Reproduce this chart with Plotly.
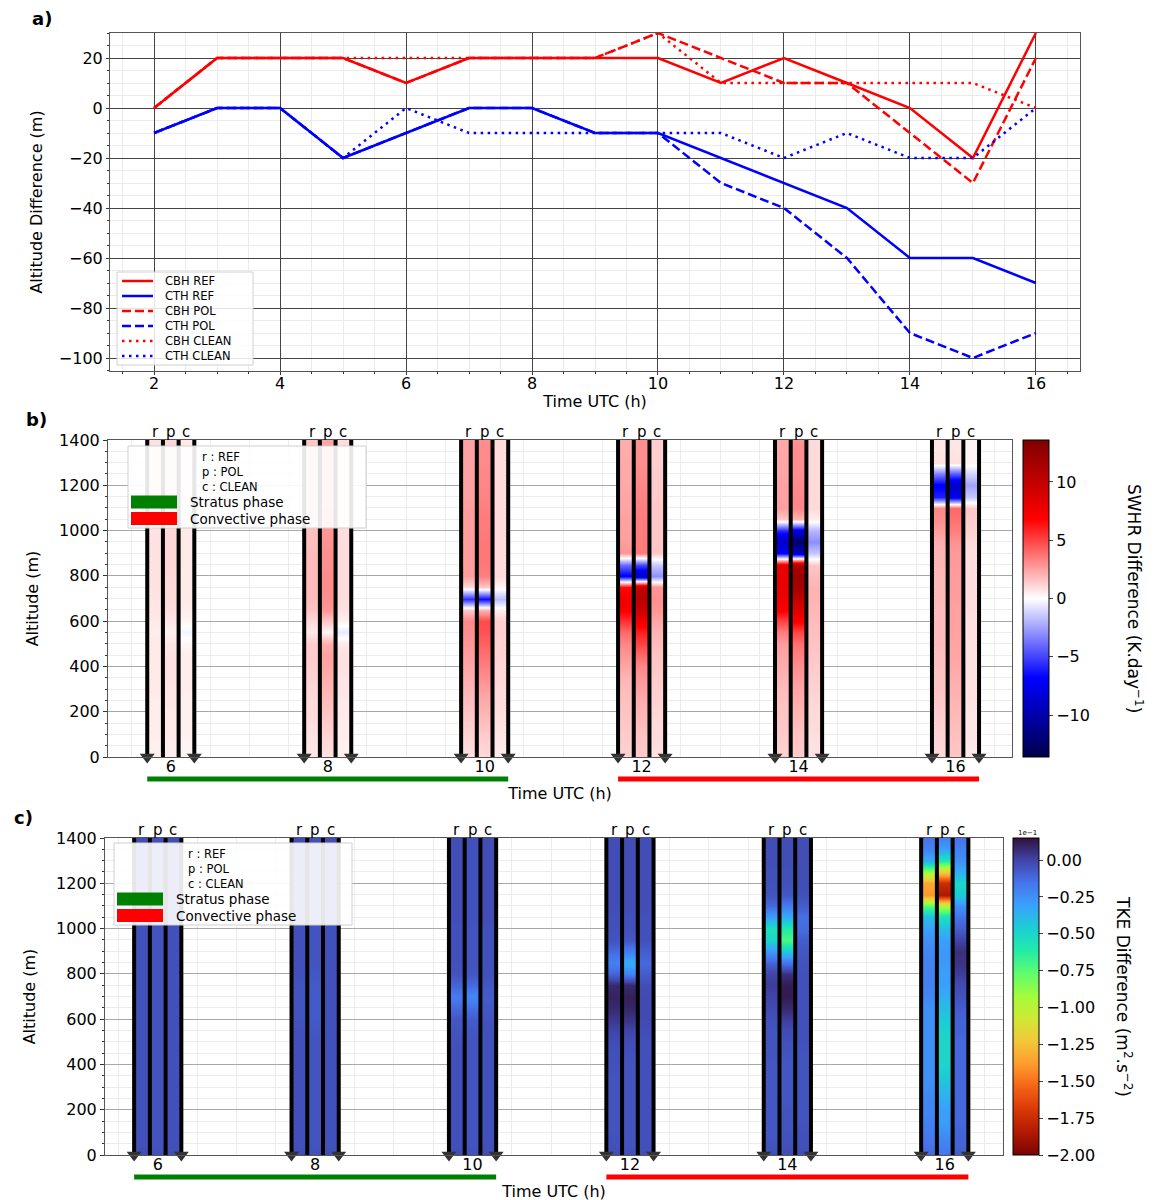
import numpy as np
import plotly.graph_objects as go
from plotly.subplots import make_subplots

# the page body adds an 8 px margin, so the figure is drawn a little narrower
# and every target position below is given in window pixels
W, H = 1151, 1200
BODY = 8
M = 20  # fixed margin on every side
FONT = "DejaVu Sans"

# ---------------- panel a : cloud base / top altitude differences
hours = [2, 3, 4, 5, 6, 7, 8, 9, 10, 11, 12, 13, 14, 15, 16]
cbh_ref = [0, 20, 20, 20, 10, 20, 20, 20, 20, 10, 20, 10, 0, -20, 30]
cth_ref = [-10, 0, 0, -20, -10, 0, 0, -10, -10, -20, -30, -40, -60, -60, -70]
cbh_pol = [0, 20, 20, 20, 10, 20, 20, 20, 30, 20, 10, 10, -10, -30, 20]
cth_pol = [-10, 0, 0, -20, -10, 0, 0, -10, -10, -30, -40, -60, -90, -100, -90]
cbh_clean = [0, 20, 20, 20, 20, 20, 20, 20, 30, 10, 10, 10, 10, 10, 0]
cth_clean = [-10, 0, 0, -20, 0, -10, -10, -10, -10, -10, -20, -10, -20, -20, 0]

# ---------------- panels b, c : profiles at selected hours
times = [6, 8, 10, 12, 14, 16]
stratus_times = [6, 8, 10]
convective_times = [12, 14, 16]
exp_letters = ["r", "p", "c"]
altitudes = [0, 50, 100, 150, 200, 250, 300, 350, 400, 450, 500, 550, 600, 650, 700,
             750, 800, 850, 900, 950, 1000, 1050, 1100, 1150, 1200, 1250, 1300, 1350, 1400]

# SWHR difference (K/day)
swhr_r6 = [0.4, 0.4, 0.5, 0.5, 0.5, 0.5, 0.6, 0.6, 0.6, 0.6, 0.6, 0.5, 0.6, 0.7, 0.7, 0.8, 0.8, 0.8, 0.8, 0.8, 0.8, 0.8, 0.8, 0.8, 0.8, 0.8, 0.8, 0.8, 0.8]
swhr_p6 = [0.5, 0.5, 0.6, 0.6, 0.6, 0.7, 0.7, 0.8, 0.8, 0.8, 0.7, 0.4, 0.7, 0.9, 1.0, 1.0, 1.0, 1.1, 1.1, 1.1, 1.1, 1.1, 1.1, 1.1, 1.1, 1.1, 1.1, 1.1, 1.1]
swhr_c6 = [0.3, 0.3, 0.4, 0.4, 0.4, 0.4, 0.5, 0.5, 0.5, 0.5, 0.3, -0.3, 0.3, 0.5, 0.6, 0.6, 0.6, 0.6, 0.6, 0.6, 0.6, 0.6, 0.6, 0.6, 0.6, 0.6, 0.6, 0.6, 0.6]
swhr_r8 = [0.6, 0.7, 0.8, 0.9, 1.0, 1.0, 1.1, 1.2, 1.3, 1.4, 1.4, 0.6, 1.0, 1.6, 1.8, 1.8, 1.8, 1.8, 1.8, 1.7, 1.7, 1.6, 1.6, 1.5, 1.5, 1.5, 1.5, 1.5, 1.5]
swhr_p8 = [0.8, 1.0, 1.2, 1.4, 1.6, 1.8, 2.0, 2.2, 2.4, 2.5, 2.2, 0.3, 1.5, 2.8, 3.0, 3.1, 3.1, 3.0, 3.0, 2.9, 2.8, 2.7, 2.6, 2.5, 2.5, 2.4, 2.4, 2.4, 2.4]
swhr_c8 = [0.4, 0.4, 0.5, 0.5, 0.6, 0.6, 0.7, 0.7, 0.8, 0.8, 0.6, -0.6, 0.4, 0.8, 0.9, 0.9, 0.9, 0.9, 0.9, 0.9, 0.9, 0.9, 0.9, 0.9, 0.9, 0.9, 0.9, 0.9, 0.9]
swhr_r10 = [0.8, 1.0, 1.2, 1.4, 1.6, 1.8, 2.0, 2.2, 2.4, 2.6, 2.8, 3.0, 3.2, 1.5, -5.5, 1.0, 2.6, 2.6, 2.6, 2.6, 2.6, 2.6, 2.6, 2.5, 2.5, 2.5, 2.5, 2.5, 2.5]
swhr_p10 = [1.0, 1.2, 1.4, 1.7, 2.0, 2.3, 2.6, 3.0, 3.4, 3.8, 4.2, 4.6, 4.8, 2.0, -6.5, 1.5, 3.4, 3.6, 3.6, 3.6, 3.5, 3.5, 3.4, 3.3, 3.2, 3.2, 3.1, 3.1, 3.0]
swhr_c10 = [0.5, 0.6, 0.7, 0.8, 0.9, 1.0, 1.0, 1.1, 1.1, 1.2, 1.2, 1.3, 1.3, 0.5, -1.8, 0.3, 1.0, 1.0, 1.0, 1.0, 1.0, 1.0, 1.0, 1.0, 1.0, 1.0, 1.0, 1.0, 1.0]
swhr_r12 = [1.2, 1.3, 1.4, 1.5, 1.6, 1.7, 1.8, 2.0, 2.4, 2.8, 3.2, 4.0, 5.5, 7.0, 7.5, 6.5, -7.0, -4.0, 2.8, 2.6, 2.5, 2.5, 2.4, 2.4, 2.3, 2.3, 2.3, 2.2, 2.2]
swhr_p12 = [1.4, 1.5, 1.6, 1.8, 2.0, 2.2, 2.5, 2.8, 3.2, 4.0, 5.0, 6.0, 7.5, 9.5, 10.5, 10.0, -9.0, -5.0, 3.5, 3.5, 3.5, 3.5, 3.4, 3.3, 3.2, 3.1, 3.0, 3.0, 3.0]
swhr_c12 = [0.8, 0.9, 1.0, 1.0, 1.1, 1.2, 1.3, 1.4, 1.5, 1.6, 1.8, 2.0, 2.4, 2.8, 3.0, 2.8, -3.0, -1.5, 1.5, 1.5, 1.5, 1.5, 1.5, 1.4, 1.4, 1.4, 1.3, 1.3, 1.3]
swhr_r14 = [1.2, 1.3, 1.4, 1.5, 1.6, 1.7, 1.8, 2.0, 2.2, 2.4, 2.6, 3.5, 5.0, 7.0, 7.5, 8.0, 8.0, 8.0, -7.0, -9.0, -6.0, 1.5, 2.6, 2.5, 2.5, 2.4, 2.4, 2.3, 2.3]
swhr_p14 = [1.4, 1.5, 1.6, 1.8, 2.0, 2.2, 2.4, 2.7, 3.0, 3.4, 3.8, 5.0, 7.0, 8.5, 10.0, 11.5, 12.0, 11.0, -9.0, -12.5, -8.0, 2.0, 3.2, 3.2, 3.1, 3.0, 3.0, 3.0, 2.9]
swhr_c14 = [0.8, 0.8, 0.9, 1.0, 1.0, 1.1, 1.2, 1.3, 1.4, 1.5, 1.6, 1.7, 1.8, 1.9, 2.0, 2.0, 1.8, 1.5, -1.5, -3.0, -2.0, 0.5, 1.0, 1.0, 1.0, 1.0, 1.0, 1.0, 1.0]
swhr_r16 = [1.0, 1.1, 1.2, 1.3, 1.4, 1.5, 1.6, 1.6, 1.7, 1.7, 1.8, 1.8, 1.8, 1.8, 1.9, 1.9, 1.9, 2.0, 2.0, 2.2, 2.6, 3.0, 3.2, -6.0, -7.0, -3.5, 0.8, 0.7, 0.7]
swhr_p16 = [1.5, 1.6, 1.7, 1.8, 1.9, 2.0, 2.1, 2.2, 2.3, 2.4, 2.4, 2.5, 2.5, 2.5, 2.6, 2.6, 2.6, 2.7, 2.7, 2.9, 3.4, 3.8, 4.0, -7.5, -9.0, -4.5, 0.8, 0.7, 0.7]
swhr_c16 = [0.6, 0.6, 0.7, 0.7, 0.7, 0.8, 0.8, 0.8, 0.8, 0.8, 0.8, 0.8, 0.8, 0.9, 0.9, 0.9, 0.9, 0.9, 0.9, 1.0, 1.2, 1.4, 1.5, -1.5, -2.5, -1.2, 0.3, 0.3, 0.3]

# TKE difference (x 1e-1 m2/s2)
tke_r6 = [-0.03, -0.04, -0.04, -0.04, -0.04, -0.04, -0.04, -0.04, -0.04, -0.04, -0.04, -0.04, -0.04, -0.04, -0.04, -0.04, -0.04, -0.04, -0.04, -0.04, -0.04, -0.03, -0.03, -0.03, -0.03, -0.03, -0.03, -0.03, -0.03]
tke_p6 = [-0.04, -0.05, -0.05, -0.05, -0.05, -0.05, -0.05, -0.05, -0.05, -0.05, -0.05, -0.05, -0.05, -0.05, -0.05, -0.05, -0.05, -0.05, -0.05, -0.05, -0.05, -0.04, -0.04, -0.04, -0.04, -0.04, -0.04, -0.04, -0.04]
tke_c6 = [-0.03, -0.04, -0.04, -0.04, -0.04, -0.04, -0.04, -0.04, -0.04, -0.04, -0.04, -0.04, -0.04, -0.04, -0.04, -0.04, -0.04, -0.04, -0.04, -0.04, -0.04, -0.03, -0.03, -0.03, -0.03, -0.03, -0.03, -0.03, -0.03]
tke_r8 = [-0.03, -0.04, -0.04, -0.04, -0.04, -0.04, -0.04, -0.04, -0.04, -0.04, -0.04, -0.04, -0.05, -0.05, -0.05, -0.05, -0.04, -0.04, -0.04, -0.04, -0.04, -0.03, -0.03, -0.03, -0.03, -0.03, -0.03, -0.03, -0.03]
tke_p8 = [-0.04, -0.05, -0.05, -0.05, -0.05, -0.05, -0.05, -0.05, -0.05, -0.05, -0.05, -0.06, -0.07, -0.07, -0.07, -0.07, -0.06, -0.05, -0.05, -0.05, -0.05, -0.04, -0.04, -0.04, -0.04, -0.04, -0.04, -0.04, -0.04]
tke_c8 = [-0.03, -0.04, -0.04, -0.04, -0.04, -0.04, -0.04, -0.04, -0.04, -0.04, -0.04, -0.04, -0.04, -0.04, -0.04, -0.04, -0.04, -0.04, -0.04, -0.04, -0.04, -0.03, -0.03, -0.03, -0.03, -0.03, -0.03, -0.03, -0.03]
tke_r10 = [-0.03, -0.04, -0.04, -0.04, -0.04, -0.04, -0.04, -0.04, -0.04, -0.04, -0.04, -0.05, -0.06, -0.12, -0.18, -0.10, -0.05, -0.04, -0.04, -0.04, -0.04, -0.03, -0.03, -0.03, -0.03, -0.03, -0.03, -0.03, -0.03]
tke_p10 = [-0.04, -0.05, -0.05, -0.05, -0.05, -0.05, -0.05, -0.05, -0.05, -0.05, -0.05, -0.06, -0.08, -0.14, -0.22, -0.12, -0.06, -0.05, -0.05, -0.05, -0.05, -0.04, -0.04, -0.04, -0.04, -0.04, -0.04, -0.04, -0.04]
tke_c10 = [-0.03, -0.04, -0.04, -0.04, -0.04, -0.04, -0.04, -0.04, -0.04, -0.04, -0.04, -0.04, -0.05, -0.06, -0.08, -0.06, -0.04, -0.04, -0.04, -0.04, -0.04, -0.03, -0.03, -0.03, -0.03, -0.03, -0.03, -0.03, -0.03]
tke_r12 = [-0.03, -0.04, -0.05, -0.05, -0.05, -0.05, -0.05, -0.05, -0.04, -0.04, -0.03, 0.0, 0.04, 0.08, 0.10, 0.08, -0.10, -0.20, -0.12, -0.05, -0.04, -0.04, -0.03, -0.03, -0.03, -0.03, -0.03, -0.03, -0.03]
tke_p12 = [-0.04, -0.05, -0.05, -0.05, -0.05, -0.05, -0.05, -0.05, -0.05, -0.04, -0.03, 0.0, 0.05, 0.09, 0.11, 0.08, -0.20, -0.35, -0.18, -0.06, -0.04, -0.04, -0.03, -0.03, -0.03, -0.03, -0.03, -0.03, -0.03]
tke_c12 = [-0.03, -0.04, -0.04, -0.04, -0.04, -0.04, -0.04, -0.04, -0.04, -0.04, -0.04, -0.03, -0.02, -0.02, -0.02, -0.03, -0.08, -0.12, -0.08, -0.04, -0.04, -0.04, -0.03, -0.03, -0.03, -0.03, -0.03, -0.03, -0.03]
tke_r14 = [-0.03, -0.05, -0.06, -0.06, -0.06, -0.06, -0.06, -0.06, -0.06, -0.05, -0.05, -0.05, -0.04, -0.02, 0.0, 0.02, 0.0, -0.10, -0.28, -0.50, -0.55, -0.30, -0.12, -0.05, -0.04, -0.04, -0.03, -0.03, -0.03]
tke_p14 = [-0.03, -0.04, -0.05, -0.05, -0.05, -0.06, -0.06, -0.06, -0.06, -0.05, -0.04, -0.02, 0.02, 0.08, 0.12, 0.12, 0.06, -0.15, -0.45, -0.72, -0.60, -0.35, -0.18, -0.06, -0.04, -0.04, -0.03, -0.03, -0.03]
tke_c14 = [-0.03, -0.04, -0.04, -0.05, -0.05, -0.05, -0.05, -0.05, -0.05, -0.05, -0.04, -0.04, -0.04, -0.04, -0.04, -0.04, -0.04, -0.05, -0.06, -0.08, -0.13, -0.14, -0.08, -0.04, -0.03, -0.03, -0.03, -0.03, -0.03]
tke_r16 = [-0.12, -0.15, -0.18, -0.20, -0.22, -0.22, -0.24, -0.25, -0.25, -0.25, -0.25, -0.25, -0.25, -0.25, -0.22, -0.20, -0.20, -0.20, -0.22, -0.25, -0.30, -0.40, -0.75, -1.40, -1.35, -0.90, -0.35, -0.20, -0.15]
tke_p16 = [-0.15, -0.20, -0.25, -0.30, -0.30, -0.35, -0.40, -0.45, -0.50, -0.50, -0.50, -0.48, -0.45, -0.40, -0.35, -0.30, -0.30, -0.28, -0.28, -0.30, -0.40, -0.55, -0.95, -1.85, -1.75, -1.20, -0.60, -0.30, -0.20]
tke_c16 = [-0.08, -0.10, -0.10, -0.12, -0.12, -0.12, -0.12, -0.12, -0.12, -0.12, -0.12, -0.10, -0.10, -0.08, -0.05, -0.02, 0.02, 0.05, 0.06, 0.0, -0.08, -0.15, -0.25, -0.45, -0.50, -0.35, -0.25, -0.20, -0.15]

swhr_cols = [(swhr_r6, swhr_p6, swhr_c6), (swhr_r8, swhr_p8, swhr_c8), (swhr_r10, swhr_p10, swhr_c10),
             (swhr_r12, swhr_p12, swhr_c12), (swhr_r14, swhr_p14, swhr_c14), (swhr_r16, swhr_p16, swhr_c16)]
tke_cols = [(tke_r6, tke_p6, tke_c6), (tke_r8, tke_p8, tke_c8), (tke_r10, tke_p10, tke_c10),
            (tke_r12, tke_p12, tke_c12), (tke_r14, tke_p14, tke_c14), (tke_r16, tke_p16, tke_c16)]

HALF = 0.3  # half width of one r/p/c group (hours)
SUB = 2 * HALF / 3


def px(x):
    # window pixel -> paper fraction
    return (x - BODY - M) / (W - 2 * M)


def py(y):
    return 1 - (y - BODY - M) / (H - 2 * M)


seismic = [[0.0, "rgb(0,0,76)"], [0.25, "rgb(0,0,255)"], [0.5, "rgb(255,255,255)"],
           [0.75, "rgb(255,0,0)"], [1.0, "rgb(127,0,0)"]]

fig = make_subplots(rows=3, cols=1)

# ---- panel a
red, blue = "#ff0000", "#0000ff"
dashed, dotted = "9px,4px", "2.5px,4.5px"
series = [("CBH REF", cbh_ref, red, "solid"), ("CTH REF", cth_ref, blue, "solid"),
          ("CBH POL", cbh_pol, red, dashed), ("CTH POL", cth_pol, blue, dashed),
          ("CBH CLEAN", cbh_clean, red, dotted), ("CTH CLEAN", cth_clean, blue, dotted)]
for name, vals, col, dash in series:
    fig.add_trace(go.Scatter(x=hours, y=vals, name=name, mode="lines", showlegend=False,
                             line=dict(color=col, width=2.5, dash=dash)), row=1, col=1)

# legend of panel a (drawn by hand to keep matplotlib's tight spacing)
fig.add_shape(type="rect", xref="paper", yref="paper", x0=px(117), x1=px(253), y0=py(272), y1=py(365),
              line=dict(color="#d0d0d0", width=1), fillcolor="rgba(255,255,255,0.85)", layer="above")
for i, (name, vals, col, dash) in enumerate(series):
    yy = py(281 + 15 * i)
    fig.add_shape(type="line", xref="paper", yref="paper", x0=px(122), x1=px(153), y0=yy, y1=yy,
                  line=dict(color=col, width=2.5, dash=dash), layer="above")
fig.add_annotation(x=px(163), y=py(318.5), xref="paper", yref="paper", align="left",
                   text="<br>".join(s[0] for s in series), showarrow=False,
                   xanchor="left", yanchor="middle", font=dict(size=11.5, family=FONT, color="black"))

# ---- panels b and c
panels = [
    (2, swhr_cols, "coloraxis", 440, 757),
    (3, tke_cols, "coloraxis2", 838, 1155),
]
for row, cols, cax, top, bot in panels:
    for t, grp in zip(times, cols):
        for k, prof in enumerate(grp):
            e0 = t - HALF + SUB * k
            fig.add_trace(go.Heatmap(
                x=[e0, e0 + SUB / 2, e0 + SUB], y=altitudes, z=[[v, v] for v in prof],
                coloraxis=cax, zsmooth="best", showlegend=False, hoverinfo="skip",
            ), row=row, col=1)

    # black separators between REF / POL / CLEAN columns
    lx, ly = [], []
    for t in times:
        for e in [t - HALF, t - HALF + SUB, t + HALF - SUB, t + HALF]:
            lx += [e, e, None]
            ly += [0, 1400, None]
    fig.add_trace(go.Scatter(x=lx, y=ly, mode="lines", line=dict(color="black", width=4),
                             showlegend=False, hoverinfo="skip"), row=row, col=1)
    ax, ay = [], []
    for t in times:
        ax += [t - HALF, t + HALF]
        ay += [0, 0]
    fig.add_trace(go.Scatter(x=ax, y=ay, mode="markers", cliponaxis=False,
                             marker=dict(symbol="triangle-down", size=13, color="#333333"),
                             showlegend=False, hoverinfo="skip"), row=row, col=1)

    # r p c labels above each group
    for t in times:
        for k, letter in enumerate(exp_letters):
            fig.add_annotation(x=t - HALF + SUB * (k + 0.5), y=1400, xref=f"x{row}", yref=f"y{row}",
                               text=letter, showarrow=False, yanchor="bottom", yshift=-3,
                               font=dict(size=15, family=FONT, color="black"))

    # stratus / convective phase bars under the axis
    for phase, col in [(stratus_times, "#008000"), (convective_times, "#ff0000")]:
        fig.add_shape(type="line", xref=f"x{row}", yref="paper",
                      x0=min(phase) - HALF, x1=max(phase) + HALF,
                      y0=py(bot + 22), y1=py(bot + 22), line=dict(color=col, width=5))


# hand-made legends for panels b and c
def phase_legend(x0, y0):
    fig.add_shape(type="rect", xref="paper", yref="paper", x0=px(x0), x1=px(x0 + 238),
                  y0=py(y0), y1=py(y0 + 82), line=dict(color="#d0d0d0", width=1),
                  fillcolor="rgba(255,255,255,0.9)", layer="above")
    fig.add_annotation(x=px(x0 + 72), y=py(y0 + 2), xref="paper", yref="paper", align="left",
                       text="r : REF<br>p : POL<br>c : CLEAN", showarrow=False,
                       xanchor="left", yanchor="top", font=dict(size=11.5, family=FONT, color="black"))
    for i, (txt, col) in enumerate([("Stratus phase", "#008000"), ("Convective phase", "#ff0000")]):
        yc = y0 + 56 + 16.5 * i
        fig.add_shape(type="rect", xref="paper", yref="paper", x0=px(x0 + 3), x1=px(x0 + 49),
                      y0=py(yc - 6.5), y1=py(yc + 6.5), fillcolor=col, line=dict(width=0), layer="above")
        fig.add_annotation(x=px(x0 + 60), y=py(yc), xref="paper", yref="paper", text=txt,
                           showarrow=False, xanchor="left", yanchor="middle",
                           font=dict(size=13.5, family=FONT, color="black"))


phase_legend(128, 446)
phase_legend(114, 843)

# panel letters
for txt, x, y in [("a)", 30, 18), ("b)", 24, 419), ("c)", 12, 817)]:
    fig.add_annotation(x=px(x), y=py(y), xref="paper", yref="paper", text=f"<b>{txt}</b>",
                       showarrow=False, xanchor="left", yanchor="middle",
                       font=dict(size=18, family=FONT, color="black"))

# colorbar titles (read top to bottom as in the original)
title_font = dict(size=17, family=FONT, color="black")
for txt, x, y in [("SWHR Difference (K.day<sup>−1</sup>)", 1135, 598),
                  ("TKE Difference (m<sup>2</sup>.s<sup>−2</sup>)", 1124, 996)]:
    fig.add_annotation(x=px(x), y=py(y), xref="paper", yref="paper", text=txt, textangle=90,
                       showarrow=False, xanchor="center", yanchor="middle", font=title_font)

fig.add_annotation(x=px(1027), y=py(833), xref="paper", yref="paper", text="1e−1",
                   showarrow=False, xanchor="center", yanchor="middle",
                   font=dict(size=7, family=FONT, color="black"))

axis_common = dict(showline=True, linecolor="#555555", linewidth=1, mirror=True,
                   ticks="outside", tickcolor="#333333", automargin=False,
                   tickfont=dict(size=16, family=FONT, color="black"), zeroline=False)
axis_title_font = dict(size=16, family=FONT, color="black")


def colorbar(x, top, bot, ticks, fmt):
    return dict(x=px(x), xanchor="left", xpad=0, ypad=0, y=py((top + bot) / 2), yanchor="middle",
                len=(bot - top) / (H - 2 * M), lenmode="fraction", thickness=26,
                outlinewidth=1, outlinecolor="black",
                tickvals=ticks, tickformat=fmt, ticks="outside", ticklen=4,
                tickfont=dict(size=16, family=FONT, color="black"))


fig.update_layout(
    width=W, height=H, margin=dict(l=M, r=M, t=M, b=M, autoexpand=False),
    paper_bgcolor="white", plot_bgcolor="white",
    font=dict(family=FONT, color="black"), showlegend=False,
    coloraxis=dict(colorscale=seismic, cmin=-13.6, cmax=13.6,
                   colorbar=colorbar(1023, 440, 757, [-10, -5, 0, 5, 10], "d")),
    coloraxis2=dict(colorscale="Turbo_r", cmin=-2.0, cmax=0.15,
                    colorbar=colorbar(1013, 838, 1155,
                                      [-2.0, -1.75, -1.5, -1.25, -1.0, -0.75, -0.5, -0.25, 0.0], ".2f")),
    xaxis=dict(domain=[px(110), px(1080)], range=[1.3, 16.7], tick0=2, dtick=2, ticklen=3,
               ticklabelstandoff=-5, gridcolor="#444444", gridwidth=1,
               minor=dict(dtick=0.5, showgrid=True, gridcolor="#ebebeb", ticks="outside", ticklen=2),
               title=dict(text="Time UTC (h)", standoff=3, font=axis_title_font),
               anchor="y", **axis_common),
    yaxis=dict(domain=[py(371), py(33)], range=[-105.2, 30], tick0=0, dtick=20, ticklen=3,
               gridcolor="#444444", gridwidth=1,
               minor=dict(dtick=5, showgrid=True, gridcolor="#ebebeb", ticks="outside", ticklen=2),
               title=dict(text="Altitude Difference (m)", standoff=12, font=axis_title_font),
               anchor="x", **axis_common),
    xaxis2=dict(domain=[px(108), px(1012)], range=[5.2, 16.72], tickvals=times, ticklen=0,
                ticklabelstandoff=-5, gridcolor="#b0b0b0",
                minor=dict(dtick=0.5, showgrid=True, gridcolor="#ececec"),
                title=dict(text="Time UTC (h)", standoff=12, font=axis_title_font),
                anchor="y2", **axis_common),
    yaxis2=dict(domain=[py(757), py(440)], range=[0, 1400], dtick=200, ticklen=4,
                gridcolor="#a8a8a8",
                minor=dict(dtick=50, showgrid=True, gridcolor="#ececec", ticks="outside", ticklen=2),
                title=dict(text="Altitude (m)", standoff=16, font=axis_title_font),
                anchor="x2", **axis_common),
    xaxis3=dict(domain=[px(105), px(1003)], range=[5.33, 16.74], tickvals=times, ticklen=0,
                ticklabelstandoff=-5, gridcolor="#b0b0b0",
                minor=dict(dtick=0.5, showgrid=True, gridcolor="#ececec"),
                title=dict(text="Time UTC (h)", standoff=12, font=axis_title_font),
                anchor="y3", **axis_common),
    yaxis3=dict(domain=[py(1155), py(838)], range=[0, 1400], dtick=200, ticklen=4,
                gridcolor="#a8a8a8",
                minor=dict(dtick=50, showgrid=True, gridcolor="#ececec", ticks="outside", ticklen=2),
                title=dict(text="Altitude (m)", standoff=16, font=axis_title_font),
                anchor="x3", **axis_common),
)

fig.write_html("out.html")
